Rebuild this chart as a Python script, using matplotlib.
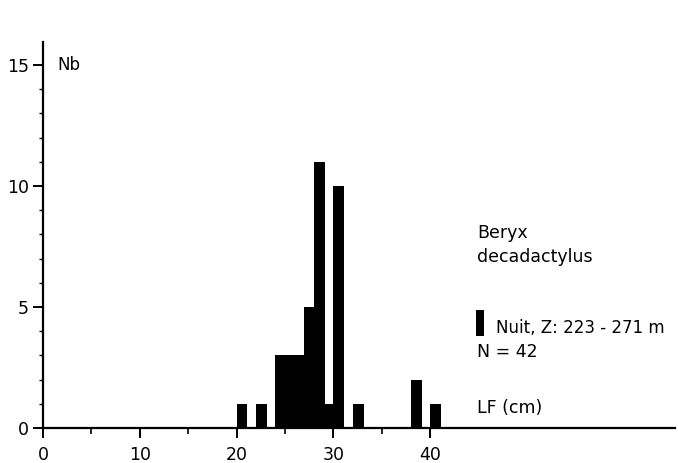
import matplotlib
matplotlib.use("Agg")
import matplotlib.pyplot as plt
from matplotlib.patches import Rectangle
from matplotlib.ticker import FixedLocator, MultipleLocator

# Data: length classes (cm, left edge of 1-cm class) and counts
lengths = [20, 22, 24, 25, 26, 27, 28, 29, 30, 32, 38, 40]
counts = [1, 1, 3, 3, 3, 5, 11, 1, 10, 1, 2, 1]
x_ticks = [0, 10, 20, 30, 40]
x_minor = [5, 15, 25, 35]
y_ticks = [0, 5, 10, 15]

plt.rcParams['font.family'] = ['DejaVu Sans']

W, H = 678, 463
fig = plt.figure(figsize=(W / 100, H / 100), dpi=100)
fig.patch.set_facecolor('white')

x0, x1 = 43, 675
y0, y1 = 428, 42
ax = fig.add_axes([x0 / W, (H - y0) / H, (x1 - x0) / W, (y0 - y1) / H])

ax.bar(lengths, counts, width=1.12, align='edge', color='black', edgecolor='none')

ax.set_xlim(0, (x1 - x0) / 9.68)
ax.set_ylim(0, (y0 - y1) / 24.2)

for s in ['top', 'right']:
    ax.spines[s].set_visible(False)
for s in ['left', 'bottom']:
    ax.spines[s].set_linewidth(1.6)
    ax.spines[s].set_color('black')

ax.set_xticks(x_ticks)
ax.set_xticklabels([str(v) for v in x_ticks])
ax.xaxis.set_minor_locator(FixedLocator(x_minor))
ax.set_yticks(y_ticks)
ax.set_yticklabels([str(v) for v in y_ticks])
ax.yaxis.set_minor_locator(MultipleLocator(1))

ax.tick_params(axis='x', which='major', direction='out', length=7, width=1.4,
               pad=6, labelsize=12.5)
ax.tick_params(axis='x', which='minor', direction='out', length=4, width=1.2)
ax.tick_params(axis='y', which='major', direction='out', length=7, width=1.4,
               pad=3, labelsize=12.5)
ax.tick_params(axis='y', which='minor', direction='out', length=3, width=1.0)

ax.patch.set_alpha(0)

# Annotations (figure pixel positions converted to fractions)
def fx(px):
    return px / W

def fy(py):
    return (H - py) / H

fs = 12.5
fig.text(fx(57), fy(65), "Nb", fontsize=12, va='center', ha='left')
fig.text(fx(477), fy(233), "Beryx", fontsize=fs, va='center', ha='left')
fig.text(fx(477), fy(257), "decadactylus", fontsize=fs, va='center', ha='left')
fig.patches.append(Rectangle((fx(476), fy(336)), fx(8), (336 - 310) / H,
                             transform=fig.transFigure, facecolor='black',
                             edgecolor='none'))
fig.text(fx(496), fy(328), "Nuit, Z: 223 - 271 m", fontsize=12, va='center', ha='left')
fig.text(fx(477), fy(352), "N = 42", fontsize=fs, va='center', ha='left')
fig.text(fx(477), fy(408), "LF (cm)", fontsize=fs, va='center', ha='left')

fig.savefig("out.png", dpi=100, facecolor='white')
